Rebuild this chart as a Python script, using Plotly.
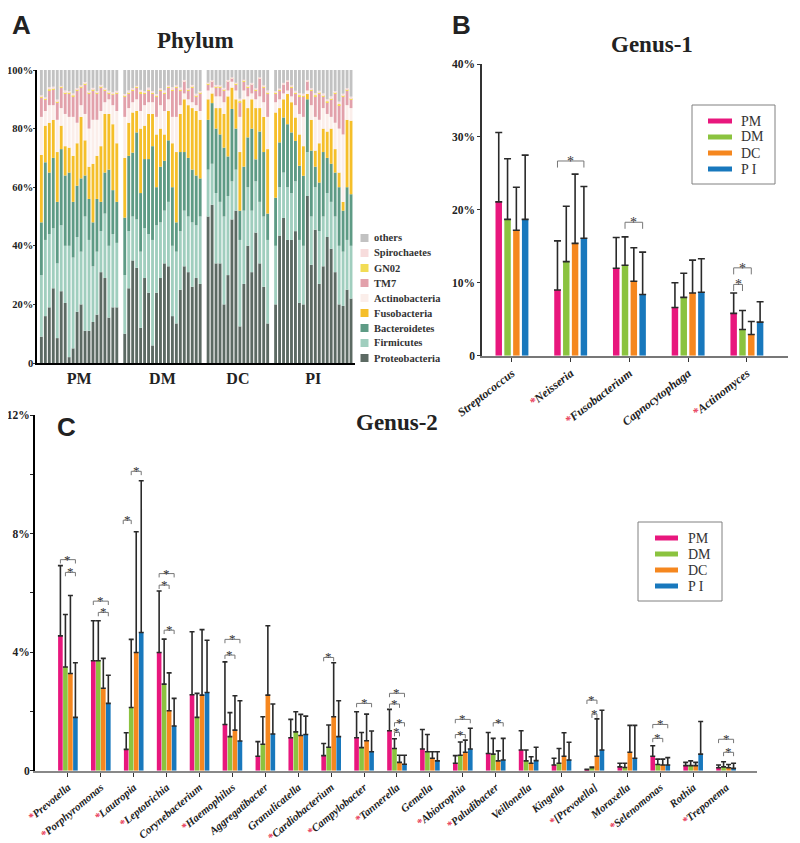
import plotly.graph_objects as go

# page body has an 8px margin: the figure is sized to fit the 800x843 window
OFF = 8
FW, FH = 800 - OFF, 843 - OFF
SERIF = "Liberation Serif"
SANS = "Liberation Sans"

def px(x):
    return (x - OFF) / FW

def py(y):
    return 1 - (y - OFF) / FH

# ---------------- Panel A data (relative abundance, %) ----------------
groups = ["PM", "DM", "DC", "PI"]
group_sizes = [20, 20, 16, 20]
phyla = ["Proteobacteria", "Firmicutes", "Bacteroidetes", "Fusobacteria",
         "Actinobacteria", "TM7", "GN02", "Spirochaetes", "others"]
phylum_colors = ["#5c6a63", "#a0cebe", "#5e9b85", "#f5bf2a",
                 "#fbeeea", "#e2a1ab", "#f2dc55", "#f7dcdc", "#c2c2c2"]

proteobacteria = [9, 16, 19, 25.5, 8.5, 24.5, 20.5, 2, 5, 17.5, 20, 11, 11, 14, 16.5, 31, 29, 15.5, 19, 19,
                  10, 25.5, 35, 32.5, 12, 29, 24, 6, 24, 29, 34, 33, 16, 13.5, 25, 33, 31, 26, 29, 27,
                  50, 54, 34, 34, 20, 30, 49, 52, 12.5, 27, 40, 31, 44.5, 34, 26, 13.5,
                  20, 43.5, 49.5, 42, 42, 45, 20.5, 20, 57, 33.5, 45.5, 27, 33, 43, 39, 31, 20, 19.5, 25, 22]
firmicutes = [21, 26, 25, 20.5, 25.5, 22.5, 19.5, 38, 31, 25.5, 18, 39, 31, 19, 21.5, 14, 22, 24.5, 25, 22,
              20, 19.5, 15, 16.5, 26, 17, 20, 36, 23, 19, 18, 22, 24, 24.5, 20, 19, 19, 22, 18, 23,
              16, 14, 24, 21, 30, 27, 13, 14, 29.5, 25, 20, 21, 17.5, 21, 24, 28.5,
              20, 16.5, 15.5, 18, 16, 17, 21.5, 20, 15, 16.5, 14.5, 18, 17, 15, 16, 19, 20, 18.5, 17, 18]
bacteroidetes = [18, 26.5, 21, 24, 21, 26, 24, 25, 19, 17.5, 25, 14, 14, 15, 18, 10, 14, 26, 15, 14,
                 19.6, 25.7, 21.8, 29.7, 20, 23.6, 25.6, 32, 13, 19, 17, 21, 20, 10, 27, 20, 20, 18, 17, 13,
                 17, 20.7, 22, 23, 23.5, 13.5, 24.7, 14, 10, 15, 17, 28, 7.5, 24, 22, 9,
                 16.4, 15.3, 18.8, 21.5, 20.7, 13.8, 25.3, 23.9, 18, 22.5, 7, 16.6, 22, 12, 13, 15, 20, 14, 18, 17.6]
fusobacteria = [23, 12.5, 17, 13, 17, 8, 10, 8.5, 15.7, 14.5, 21, 12, 11, 20, 14.7, 19, 20, 19, 22.5, 20,
                20.4, 11.3, 13.7, 7.3, 22, 11.4, 15.4, 11, 18, 13, 9, 10, 15, 24, 13, 18, 18, 21, 22, 20,
                7, 3.3, 7, 9, 11.5, 20.5, 7.3, 10, 20, 23, 10, 10, 17.5, 8, 12, 22,
                29.1, 11.7, 6.2, 10.3, 10.3, 8, 10.7, 10.1, 1.8, 10.5, 5.5, 13.4, 8, 9, 12, 8, 5, 3, 23, 25.1]
actinobacteria = [13, 5, 6, 5, 11, 6, 11, 10.5, 13.3, 7, 4, 9, 13, 15, 12.3, 12, 4, 5, 6.5, 11,
                  14, 5, 3.5, 4, 6, 7, 4, 4, 6, 8, 8, 4, 9, 12, 3, 2, 2, 2, 2, 3,
                  3, 2, 4, 4, 4, 2, 2, 3, 12, 3, 4, 2, 3, 4, 5, 11,
                  3.5, 3, 2, 1.2, 2, 4.2, 7, 10, 1.2, 5, 11.5, 8, 7, 6, 4, 9, 15, 23, 5, 4.3]
tm7 = [6.5, 4, 5, 5.5, 6, 7, 7, 8, 7, 11, 6, 10, 12, 10, 9, 8, 4, 2, 3.5, 6,
       7, 5, 4, 4, 6, 4, 4, 3, 7, 5, 6, 4, 9, 10, 5, 4, 3, 5, 3, 6,
       2, 2, 3, 3, 4, 3, 1, 2, 5, 3, 3, 3, 3, 6, 5, 8,
       3, 3, 3, 3, 3, 4, 6, 7, 3, 5, 7, 9, 4, 4, 6, 10, 8, 13, 5, 3]
gn02 = [0.3, 0.2, 0.4, 0.3, 0.3, 0.2, 0.4, 0.3, 0.3, 0.2, 0.3, 0.4, 0.3, 0.2, 0.3, 0.3, 0.4, 0.3, 0.2, 0.3,
        0.3, 0.4, 0.3, 0.2, 0.5, 0.3, 0.4, 0.3, 0.2, 0.3, 0.4, 0.3, 0.5, 0.3, 0.4, 0.2, 0.3, 0.4, 0.3, 0.3,
        0.3, 0.2, 0.4, 0.3, 0.3, 0.2, 0.2, 0.3, 0.4, 0.3, 0.3, 0.2, 0.3, 0.2, 0.3, 0.4,
        0.3, 0.3, 0.2, 0.2, 0.3, 0.3, 0.4, 0.3, 0.2, 0.3, 0.4, 0.3, 0.4, 0.3, 0.4, 0.3, 0.4, 0.3, 0.3, 0.3]
spirochaetes = [0.6, 0.5, 0.7, 0.5, 0.6, 0.4, 0.6, 0.5, 0.7, 0.6, 0.5, 0.5, 0.6, 0.7, 0.5, 0.6, 0.5, 0.6, 0.7, 0.6,
                0.5, 0.6, 0.5, 0.4, 0.7, 0.5, 0.6, 0.5, 0.6, 0.5, 0.6, 0.4, 0.6, 0.5, 0.6, 0.4, 0.5, 0.5, 0.6, 0.5,
                0.4, 0.3, 0.5, 0.5, 0.6, 0.4, 0.3, 0.4, 0.8, 0.4, 0.5, 0.4, 0.5, 0.3, 0.5, 0.6,
                0.5, 0.4, 0.4, 0.3, 0.5, 0.6, 0.7, 0.6, 0.4, 0.5, 0.7, 0.6, 0.6, 0.7, 0.6, 0.5, 0.8, 0.6, 0.5, 0.6]
others = [8.6, 9.3, 5.9, 5.7, 10.1, 5.4, 7.0, 7.2, 8.0, 6.2, 5.2, 4.1, 7.1, 6.1, 7.2, 5.1, 6.1, 7.1, 7.6, 7.1,
          8.2, 7.0, 6.2, 5.4, 6.8, 7.2, 6.0, 7.2, 8.2, 6.2, 7.0, 5.3, 5.9, 5.2, 6.0, 3.4, 6.2, 5.1, 8.1, 7.2,
          4.3, 3.5, 5.1, 5.2, 6.1, 3.4, 2.5, 4.3, 9.8, 3.3, 5.2, 4.4, 6.2, 2.5, 5.2, 7.0,
          7.2, 6.3, 4.4, 3.5, 5.2, 7.1, 7.9, 8.1, 3.4, 6.2, 7.9, 7.1, 8.0, 10.0, 9.0, 7.2, 10.8, 8.1, 6.2, 9.1]
phylum_values = [proteobacteria, firmicutes, bacteroidetes, fusobacteria,
                 actinobacteria, tm7, gn02, spirochaetes, others]
a_yticks = [0, 20, 40, 60, 80, 100]
a_yticktext = ["0", "20%", "40%", "60%", "80%", "100%"]

# ---------------- Panel B data (%) ----------------
series = ["PM", "DM", "DC", "PI"]
series_labels = ["PM", "DM", "DC", "P I"]
series_colors = ["#e8177d", "#8bc33f", "#f5871f", "#1878bd"]
genus1 = ["Streptococcus", "Neisseria", "Fusobacterium", "Capnocytophaga", "Actinomyces"]
genus1_sig = [False, True, True, False, True]
g1_mean = {
    "PM": [21.1, 9.0, 12.0, 6.6, 5.8],
    "DM": [18.7, 12.9, 12.4, 8.0, 3.6],
    "DC": [17.2, 15.4, 10.2, 8.6, 2.9],
    "PI": [18.7, 16.1, 8.4, 8.7, 4.6],
}
g1_sd = {
    "PM": [9.5, 6.75, 4.2, 3.4, 2.8],
    "DM": [8.3, 7.6, 3.9, 3.3, 2.6],
    "DC": [5.9, 9.5, 4.6, 4.5, 1.8],
    "PI": [8.8, 7.1, 5.8, 4.6, 2.8],
}
# (category, series_from, series_to, height %)
g1_brackets = [(1, 0, 3, 26.7), (2, 1, 3, 18.3), (4, 0, 2, 12.05), (4, 0, 1, 9.77)]
b_yticks = [0, 10, 20, 30, 40]
b_yticktext = ["0", "10%", "20%", "30%", "40%"]

# ---------------- Panel C data (%) ----------------
genus2 = ["Prevotella", "Porphyromonas", "Lautropia", "Leptotrichia", "Corynebacterium",
          "Haemophilus", "Aggregatibacter", "Granulicatella", "Cardiobacterium", "Campylobacter",
          "Tannerella", "Gemella", "Abiotrophia", "Paludibacter", "Veillonella", "Kingella",
          "[Prevotella]", "Moraxella", "Selenomonas", "Rothia", "Treponema"]
genus2_sig = [True, True, True, True, False, True, False, False, True, True,
              True, False, True, True, False, False, True, False, True, False, True]
g2_mean = {
    "PM": [4.55, 3.71, 0.72, 3.99, 2.56, 1.56, 0.49, 1.11, 0.51, 1.11, 1.35, 0.73, 0.25, 0.58, 0.70, 0.19, 0.03, 0.13, 0.49, 0.17, 0.10],
    "DM": [3.5, 3.71, 2.13, 2.92, 1.80, 1.15, 0.89, 1.31, 0.79, 0.78, 0.75, 0.64, 0.52, 0.56, 0.33, 0.25, 0.10, 0.11, 0.21, 0.17, 0.13],
    "DC": [3.28, 2.78, 3.99, 2.02, 2.55, 1.37, 2.55, 1.19, 1.82, 1.01, 0.28, 0.42, 0.62, 0.33, 0.25, 0.49, 0.49, 0.62, 0.19, 0.17, 0.10],
    "PI": [1.8, 2.27, 4.66, 1.51, 2.64, 1.0, 1.24, 1.22, 1.15, 0.64, 0.22, 0.33, 0.73, 0.36, 0.34, 0.36, 0.70, 0.42, 0.19, 0.56, 0.08],
}
g2_sd = {
    "PM": [2.37, 1.35, 0.56, 2.07, 2.13, 2.11, 0.49, 0.62, 0.41, 0.88, 0.72, 0.66, 0.26, 0.71, 0.65, 0.23, 0.02, 0.12, 0.35, 0.11, 0.09],
    "DM": [1.77, 1.35, 2.30, 1.52, 0.81, 0.81, 0.93, 0.68, 0.75, 0.51, 0.33, 0.58, 0.45, 0.53, 0.37, 0.50, 0.02, 0.14, 0.18, 0.16, 0.17],
    "DC": [2.63, 1.01, 4.07, 1.28, 2.21, 1.16, 2.34, 0.71, 1.82, 0.90, 0.24, 0.22, 0.41, 0.34, 0.22, 0.79, 1.26, 0.91, 0.20, 0.11, 0.11],
    "PI": [1.84, 0.95, 5.12, 0.93, 1.76, 1.36, 1.01, 0.62, 1.21, 0.70, 0.30, 0.31, 0.70, 0.73, 0.45, 0.60, 1.34, 1.11, 0.25, 1.10, 0.17],
}
g2_brackets = [(0, 0, 3, 7.12), (0, 1, 3, 6.69),
               (1, 0, 3, 5.72), (1, 1, 3, 5.34),
               (2, -0.6, 1, 8.45), (2, 1, 3, 10.1),
               (3, 0, 3, 6.65), (3, 0, 2, 6.26), (3, 1, 3, 4.74),
               (5, 0, 2, 3.9), (5, 0, 3, 4.43),
               (8, 0, 2, 3.82),
               (9, 0, 3, 2.27),
               (10, 0, 3, 2.61), (10, 0, 2, 2.25), (10, 1, 3, 1.62), (10, 1, 2, 1.29),
               (12, 0, 3, 1.73), (12, 0, 2, 1.22),
               (13, 1, 3, 1.62),
               (16, 0, 2, 2.38), (16, 1, 2, 1.91),
               (18, 0, 3, 1.56), (18, 0, 2, 1.09),
               (20, 0, 3, 1.06), (20, 1, 3, 0.62)]
c_yticks = [0, 2, 4, 6, 8, 10, 12]
c_yticktext = ["0", "", "4%", "", "8%", "", "12%"]

STAR_RED = "#e8405c"

def label(name, sig):
    star = '<span style="color:%s">*</span>' % STAR_RED if sig else ""
    return star + name

fig = go.Figure()
shapes = []
annotations = []

# ---------------- Panel A ----------------
xs = []
group_centers = []
pos = 0
for n in group_sizes:
    xs.extend(range(pos, pos + n))
    group_centers.append(pos + (n - 1) / 2)
    pos += n + 1

base = [0.0] * len(xs)
for name, vals, color in zip(phyla, phylum_values, phylum_colors):
    fig.add_trace(go.Bar(x=xs, y=vals, base=list(base), width=0.72, offset=-0.36,
                         marker=dict(color=color, line=dict(width=0)), name=name,
                         showlegend=False, xaxis="x", yaxis="y"))
    base = [b + v for b, v in zip(base, vals)]

# manual legend for panel A (top: others ... bottom: Proteobacteria)
for k, (name, color) in enumerate(zip(phyla[::-1], phylum_colors[::-1])):
    yc = 238 + 15 * k
    shapes.append(dict(type="rect", xref="paper", yref="paper",
                       x0=px(360.5), x1=px(368.5), y0=py(yc + 4), y1=py(yc - 4),
                       fillcolor=color, line=dict(width=0)))
    annotations.append(dict(x=px(372), y=py(yc), xref="paper", yref="paper", text=name,
                            xanchor="left", yanchor="middle", showarrow=False,
                            font=dict(family=SERIF, size=10.5, color="#333", weight="bold")))

# ---------------- grouped bar helper ----------------
def add_grouped(cats, means, sds, pitch, width, xa, ya, err_w):
    for i, s in enumerate(series):
        fig.add_trace(go.Bar(x=list(range(len(cats))), y=means[s], width=width,
                             offset=(i - 1.5) * pitch - width / 2,
                             marker=dict(color=series_colors[i], line=dict(width=0)),
                             error_y=dict(type="data", array=sds[s], arrayminus=[0] * len(cats),
                                          symmetric=False, color="#2a2a2a", thickness=1.6, width=err_w),
                             name=s, showlegend=False, xaxis=xa, yaxis=ya))

def add_brackets(brackets, pitch, drop, xa, ya, star_size, star_shift):
    bx, by = [], []
    for cat, a, b, h in brackets:
        x0 = cat + (a - 1.5) * pitch
        x1 = cat + (b - 1.5) * pitch
        bx += [x0, x0, x1, x1, None]
        by += [h - drop, h, h, h - drop, None]
        annotations.append(dict(x=(x0 + x1) / 2, y=h, xref=xa, yref=ya,
                                text="*", showarrow=False, xanchor="center", yanchor="bottom",
                                yshift=star_shift, borderpad=0,
                                font=dict(family=SERIF, size=star_size, color="#333")))
    fig.add_trace(go.Scatter(x=bx, y=by, mode="lines", line=dict(color="#777", width=1),
                             hoverinfo="skip", showlegend=False, cliponaxis=False,
                             xaxis=xa, yaxis=ya))

# ---------------- Panel B ----------------
B_PITCH, B_WIDTH = 0.15, 0.11
add_grouped(genus1, g1_mean, g1_sd, B_PITCH, B_WIDTH, "x2", "y2", 3.5)
add_brackets(g1_brackets, B_PITCH, 0.9, "x2", "y2", 14, -9)

# ---------------- Panel C ----------------
C_PITCH, C_WIDTH = 0.152, 0.14
add_grouped(genus2, g2_mean, g2_sd, C_PITCH, C_WIDTH, "x3", "y3", 2.5)
add_brackets(g2_brackets, C_PITCH, 0.13, "x3", "y3", 13, -8)

# manual legends for panels B and C
def series_legend(x0, y0, x1, y1, sw0, sw1, tx, yfirst):
    shapes.append(dict(type="rect", xref="paper", yref="paper", x0=px(x0), x1=px(x1),
                       y0=py(y1), y1=py(y0), line=dict(color="#808080", width=1),
                       fillcolor="rgba(0,0,0,0)"))
    for k, (lab, color) in enumerate(zip(series_labels, series_colors)):
        yc = yfirst + 16 * k
        shapes.append(dict(type="line", xref="paper", yref="paper", x0=px(sw0), x1=px(sw1),
                           y0=py(yc), y1=py(yc), line=dict(color=color, width=5)))
        annotations.append(dict(x=px(tx), y=py(yc), xref="paper", yref="paper", text=lab,
                                xanchor="left", yanchor="middle", showarrow=False,
                                font=dict(family=SERIF, size=14, color="#333")))

series_legend(692, 105, 775, 184, 708, 732, 739, 121)
series_legend(638, 522, 722, 601, 655, 678, 686, 538)

# titles and panel letters
for text, x, y, size in [("Phylum", 195, 40, 23), ("Genus-1", 652, 45, 23), ("Genus-2", 397, 422, 23)]:
    annotations.append(dict(x=px(x), y=py(y), xref="paper", yref="paper", text=text,
                            showarrow=False, xanchor="center", yanchor="middle",
                            font=dict(family=SERIF, size=size, color="#222", weight="bold")))
for text, x, y, anchor in [("A", 21, 8.5, "top"), ("B", 461, 8.5, "top"), ("C", 67, 427, "middle")]:
    annotations.append(dict(x=px(x), y=py(y), xref="paper", yref="paper", text=text,
                            showarrow=False, xanchor="center", yanchor=anchor, borderpad=0,
                            font=dict(family=SANS, size=26, color="#222", weight="bold")))

a_tick_font = dict(family=SERIF, size=10.5, color="#222", weight="bold")
b_tick_font = dict(family=SERIF, size=11.5, color="#222", weight="bold")
b_cat_font = dict(family=SERIF, size=12, color="#222", weight="bold", style="italic")
c_cat_font = dict(family=SERIF, size=11, color="#222", weight="bold", style="italic")

fig.update_layout(
    template="none",
    width=FW, height=FH, autosize=False,
    margin=dict(l=0, r=0, t=0, b=0, pad=0),
    paper_bgcolor="white", plot_bgcolor="white",
    barmode="overlay", showlegend=False,
    shapes=shapes, annotations=annotations,
    xaxis=dict(domain=[px(37), px(355)], range=[-1.1, 79], tickvals=group_centers, ticktext=groups,
               ticks="", showline=True, linecolor="black", linewidth=2, showgrid=False, zeroline=False,
               automargin=False,
               tickfont=dict(family=SERIF, size=16, color="#222", weight="bold"), anchor="y"),
    yaxis=dict(domain=[py(363), py(70)], range=[0, 100], tickvals=a_yticks, ticktext=a_yticktext,
               ticks="outside", ticklen=2, tickcolor="#333", showline=True, linecolor="black", linewidth=1.5,
               ticklabelstandoff=-2,
               showgrid=False, zeroline=False, tickfont=a_tick_font, anchor="x", automargin=False),
    xaxis2=dict(domain=[px(482), px(788)], range=[-0.51, 4.7], tickvals=list(range(len(genus1))),
                ticktext=[label(n, s) for n, s in zip(genus1, genus1_sig)], tickangle=-38,
                ticks="outside", ticklen=4, tickcolor="#333", showline=True, linecolor="#777", linewidth=2,
                showgrid=False, zeroline=False, tickfont=b_cat_font, anchor="y2", automargin=False),
    yaxis2=dict(domain=[py(355.7), py(64)], range=[0, 40], tickvals=b_yticks, ticktext=b_yticktext,
                ticks="outside", ticklen=3, tickcolor="#333", showline=True, linecolor="#333", linewidth=1.5,
                showgrid=False, zeroline=False, tickfont=b_tick_font, anchor="x2", automargin=False),
    xaxis3=dict(domain=[px(35), px(757)], range=[-1.0, 20.94], tickvals=list(range(len(genus2))),
                ticktext=[label(n, s) for n, s in zip(genus2, genus2_sig)], tickangle=-40,
                ticks="outside", ticklen=4, tickcolor="#333", showline=True, linecolor="#888", linewidth=2,
                showgrid=False, zeroline=False, tickfont=c_cat_font, anchor="y3", automargin=False),
    yaxis3=dict(domain=[py(770.7), py(415)], range=[0, 12], tickvals=c_yticks, ticktext=c_yticktext,
                ticks="outside", ticklen=3, tickcolor="#222", showline=True, linecolor="black", linewidth=2,
                ticklabelstandoff=-2,
                showgrid=False, zeroline=False, tickfont=dict(family=SERIF, size=11.5, color="#222", weight="bold"),
                anchor="x3", automargin=False),
)

fig.write_html("out.html")
